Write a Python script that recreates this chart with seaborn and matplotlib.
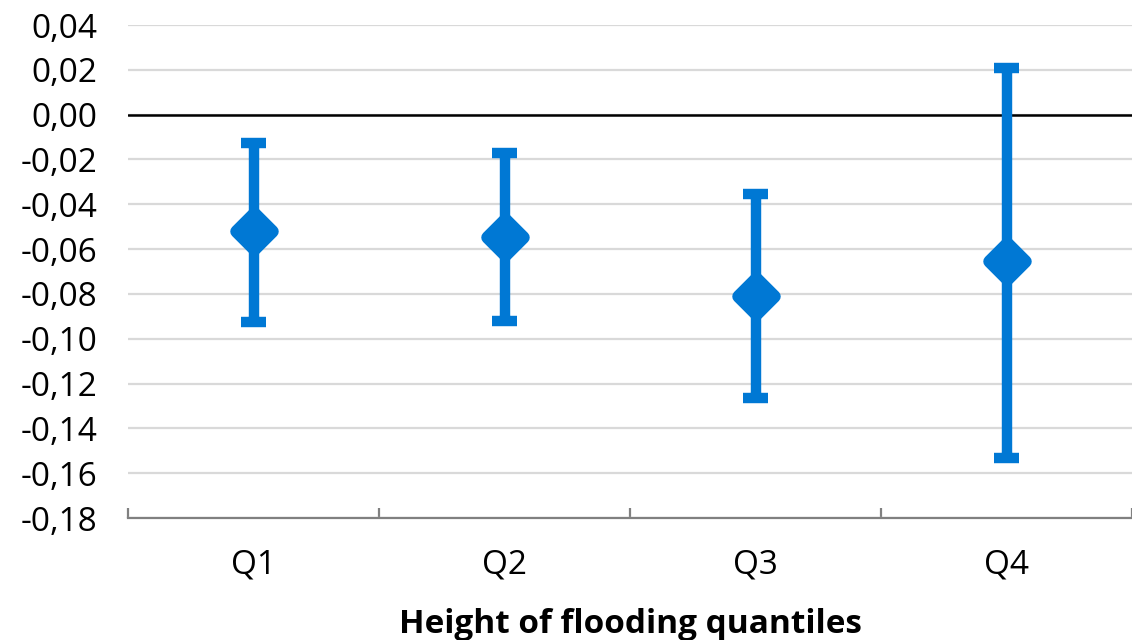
import numpy as np
import pandas as pd
import matplotlib
matplotlib.use("Agg")
import matplotlib.pyplot as plt
import seaborn as sns
from matplotlib.ticker import FuncFormatter, FixedLocator
from matplotlib.markers import MarkerStyle

# Estimates and interval bounds per flooding-height quantile
quantiles = ["Q1", "Q2", "Q3", "Q4"]
estimate = [-0.052, -0.0545, -0.081, -0.0655]
lower = [-0.0925, -0.092, -0.1265, -0.153]
upper = [-0.0125, -0.017, -0.0355, 0.021]
y_ticks = [-0.18, -0.16, -0.14, -0.12, -0.10, -0.08, -0.06, -0.04, -0.02, 0.00, 0.02, 0.04]

# long format: lower / estimate / upper per group -> median gives the estimate, min/max the bounds
rows = []
for q, lo, est, hi in zip(quantiles, lower, estimate, upper):
    for v in (lo, est, hi):
        rows.append({"quantile": q, "value": v})
df = pd.DataFrame(rows)

sns.set_style("white")
plt.rcParams["font.family"] = ["Open Sans", "DejaVu Sans"]
plt.rcParams["text.color"] = "black"

blue = "#0078d4"

fig = plt.figure(figsize=(11.32, 6.4), dpi=100)
ax = fig.add_axes([0.1131, 0.1906, 0.8869, 0.7703])

sns.pointplot(
    data=df, x="quantile", y="value", ax=ax,
    estimator="median", errorbar=lambda x: (x.min(), x.max()),
    color=blue, capsize=0.1, linestyle="none",
    marker=MarkerStyle("D", joinstyle="round"), markersize=18, markeredgewidth=9,
    err_kws={"linewidth": 7.5, "solid_capstyle": "butt"},
)

ax.set_ylim(-0.18, 0.04)
ax.set_xlim(-0.5, 3.5)
ax.set_yticks(y_ticks)
ax.yaxis.set_major_formatter(FuncFormatter(lambda v, p: f"{v:.2f}".replace(".", ",").replace("-0,00", "0,00")))
ax.grid(axis="y", color="#d9d9d9", linewidth=1.6, zorder=0)
ax.set_axisbelow(True)
ax.axhline(0, color="black", linewidth=1.8, zorder=1)

for s in ["left", "right", "top"]:
    ax.spines[s].set_visible(False)
ax.spines["bottom"].set_color("#808080")
ax.spines["bottom"].set_linewidth(1.6)

ax.xaxis.set_minor_locator(FixedLocator([-0.5, 0.5, 1.5, 2.5, 3.5]))
ax.tick_params(axis="x", which="minor", bottom=True, direction="in", length=7, width=1.6, color="#808080")
ax.tick_params(axis="x", which="major", length=0, pad=22, labelsize=24, labelcolor="black")
ax.tick_params(axis="y", length=0, pad=22, labelsize=24, labelcolor="black")

ax.set_xlabel("Height of flooding quantiles", fontsize=24, fontweight="bold", labelpad=19, color="black")
ax.set_ylabel("")

fig.savefig("out.png", dpi=100)
